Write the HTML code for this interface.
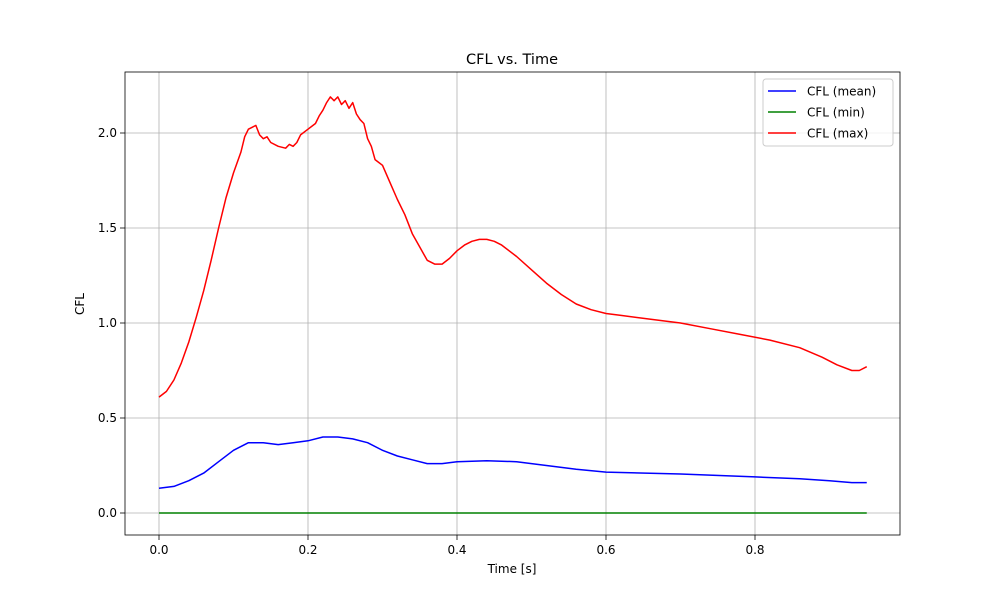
<!DOCTYPE html>
<html><head><meta charset="utf-8"><style>
body{margin:0;background:#fff;}
svg{font-family:"DejaVu Sans","Liberation Sans",sans-serif;}
</style></head><body>
<svg id="chart" width="1000" height="600"></svg>
<script>
const xTicks=[0,0.2,0.4,0.6,0.8];
const xTickLabels=["0.0","0.2","0.4","0.6","0.8"];
const yTicks=[0,0.5,1,1.5,2];
const yTickLabels=["0.0","0.5","1.0","1.5","2.0"];
const maxT=[0,0.01,0.02,0.03,0.04,0.05,0.06,0.07,0.08,0.09,0.10,0.11,0.115,0.12,0.125,0.13,0.135,0.14,0.145,0.15,0.16,0.17,0.175,0.18,0.185,0.19,0.20,0.21,0.215,0.22,0.225,0.23,0.235,0.24,0.245,0.25,0.255,0.26,0.265,0.27,0.275,0.28,0.285,0.29,0.30,0.31,0.32,0.33,0.34,0.35,0.36,0.37,0.38,0.39,0.40,0.41,0.42,0.43,0.44,0.45,0.46,0.48,0.50,0.52,0.54,0.56,0.58,0.60,0.62,0.66,0.70,0.74,0.78,0.82,0.86,0.89,0.91,0.93,0.94,0.95];
const maxV=[0.61,0.64,0.70,0.79,0.90,1.03,1.17,1.33,1.50,1.66,1.79,1.90,1.98,2.02,2.03,2.04,1.99,1.97,1.98,1.95,1.93,1.92,1.94,1.93,1.95,1.99,2.02,2.05,2.09,2.12,2.16,2.19,2.17,2.19,2.15,2.17,2.13,2.16,2.10,2.07,2.05,1.97,1.93,1.86,1.83,1.74,1.65,1.57,1.47,1.40,1.33,1.31,1.31,1.34,1.38,1.41,1.43,1.44,1.44,1.43,1.41,1.35,1.28,1.21,1.15,1.10,1.07,1.05,1.04,1.02,1.00,0.97,0.94,0.91,0.87,0.82,0.78,0.75,0.75,0.77];
const meanT=[0,0.02,0.04,0.06,0.08,0.10,0.12,0.14,0.16,0.18,0.20,0.22,0.24,0.26,0.28,0.30,0.32,0.34,0.36,0.38,0.40,0.44,0.48,0.52,0.56,0.60,0.70,0.80,0.86,0.90,0.93,0.95];
const meanV=[0.13,0.14,0.17,0.21,0.27,0.33,0.37,0.37,0.36,0.37,0.38,0.40,0.40,0.39,0.37,0.33,0.30,0.28,0.26,0.26,0.27,0.275,0.27,0.25,0.23,0.215,0.205,0.19,0.18,0.17,0.16,0.16];
const minT=[0,0.95];
const minV=[0,0];

const NS="http://www.w3.org/2000/svg";
const svg=document.getElementById('chart');
const L=125,R=900,T=72,B=535;
const X=v=>159+v*745;
const Y=v=>513-v*190;
function mk(tag,at,parent){const e=document.createElementNS(NS,tag);for(const k in at)e.setAttribute(k,at[k]);(parent||svg).appendChild(e);return e;}
function txt(s,at){const e=mk('text',at);e.textContent=s;return e;}

xTicks.forEach((v,i)=>{
  const g=mk('line',{x1:X(v),x2:X(v),y1:T,y2:B,stroke:'#b0b0b0','stroke-width':0.8});
  
  
  mk('line',{x1:X(v),x2:X(v),y1:B,y2:B+5,stroke:'#000','stroke-width':0.8});
  const t=txt(xTickLabels[i],{x:X(v),y:B+19,'font-size':12,'text-anchor':'middle'});
  
  
});
yTicks.forEach((v,i)=>{
  const g=mk('line',{x1:L,x2:R,y1:Y(v),y2:Y(v),stroke:'#b0b0b0','stroke-width':0.8});
  
  
  mk('line',{x1:L-5,x2:L,y1:Y(v),y2:Y(v),stroke:'#000','stroke-width':0.8});
  const t=txt(yTickLabels[i],{x:L-8,y:Y(v)+4,'font-size':12,'text-anchor':'end'});
  
  
});
function series(ts,vs,color,name){
  const p=mk('polyline',{points:ts.map((t,i)=>X(t)+','+Y(vs[i])).join(' '),fill:'none',stroke:color,'stroke-width':1.5,'stroke-linejoin':'round'});
  
  
}
series(meanT,meanV,'#0000ff','cfl-mean-line');
series(minT,minV,'#008000','cfl-min-line');
series(maxT,maxV,'#ff0000','cfl-max-line');
const fr=mk('rect',{x:L,y:T,width:R-L,height:B-T,fill:'none',stroke:'#000','stroke-width':0.8});


const ti=txt('CFL vs. Time',{x:512,y:64,'font-size':14.5,'text-anchor':'middle'});


const xl=txt('Time [s]',{x:512,y:573,'font-size':12,'text-anchor':'middle'});


const yl=txt('CFL',{x:84,y:304,'font-size':12,'text-anchor':'middle',transform:'rotate(-90 84 304)'});


const lg=mk('rect',{x:763,y:79,width:130,height:67,rx:3,fill:'#fff','fill-opacity':0.8,stroke:'#ccc','stroke-width':1});


[['CFL (mean)','#0000ff'],['CFL (min)','#008000'],['CFL (max)','#ff0000']].forEach((d,i)=>{
  const y=91+i*21;
  mk('line',{x1:768,x2:796,y1:y,y2:y,stroke:d[1],'stroke-width':1.5});
  const t=txt(d[0],{x:807,y:y+4.5,'font-size':12});
  
  
});
</script>
</body></html>
